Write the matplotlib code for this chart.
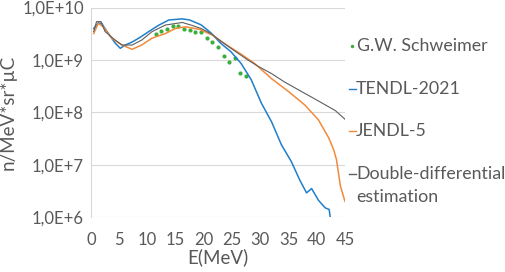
import matplotlib.pyplot as plt
from matplotlib.lines import Line2D

plt.rcParams['font.family'] = ['Lato', 'DejaVu Sans']

# G.W. Schweimer (points)
e_gw = [11.5, 12.5, 13.5, 14.5, 15.5, 16.5, 17.5, 18.5, 19.5, 20.5, 21.5, 22.5,
        23.5, 24.5, 25.5, 26.5, 27.5]
v_gw = [3.2e9, 3.6e9, 3.85e9, 4.5e9, 4.5e9, 3.85e9, 3.7e9, 3.46e9, 3.37e9, 2.66e9,
        2.2e9, 1.79e9, 1.21e9, 9.3e8, 1.09e9, 5.6e8, 4.9e8]

# TENDL-2021
e_tendl = [0.5, 1.3, 1.9, 3.1, 4.3, 5.2, 6.1, 7.3, 8.7, 10.2, 12.0, 13.8, 16.2, 17.5,
           19.5, 20.7, 21.25, 23.0, 24.8, 26.6, 28.4, 30.2, 32.0, 33.75, 35.5, 37.0,
           38.2, 39.1, 40.3, 41.5, 42.2, 42.4]
v_tendl = [4.0e9, 5.1e9, 5.0e9, 3.2e9, 2.1e9, 1.67e9, 1.93e9, 2.2e9, 2.7e9, 3.46e9,
           4.6e9, 5.8e9, 6.1e9, 5.8e9, 4.7e9, 3.7e9, 3.3e9, 2.08e9, 1.44e9, 8.6e8,
           4.2e8, 1.5e8, 6.6e7, 2.4e7, 1.15e7, 5.1e6, 2.9e6, 3.5e6, 2.1e6, 1.5e6,
           1.4e6, 1.0e6]

# JENDL-5
e_jendl = [0.5, 1.3, 2.2, 3.7, 5.5, 7.3, 9.0, 10.8, 13.2, 15.0, 16.8, 19.2, 21.5,
           23.6, 26.6, 29.0, 32.0, 35.0, 37.9, 40.3, 42.1, 43.0, 43.5, 44.2, 45.0]
v_jendl = [3.2e9, 5.0e9, 4.3e9, 2.6e9, 1.93e9, 1.6e9, 1.93e9, 2.6e9, 3.2e9, 4.0e9,
           4.3e9, 3.85e9, 3.0e9, 2.08e9, 1.29e9, 8.6e8, 4.4e8, 2.5e8, 1.38e8, 7.2e7,
           3.3e7, 1.95e7, 1.26e7, 3.9e6, 2.0e6]

# Double-differential estimation
e_dd = [0.5, 1.0, 1.8, 2.5, 4.3, 5.5, 7.3, 9.0, 10.8, 13.2, 16.2, 17.7, 19.5, 21.25,
        23.0, 24.8, 26.5, 27.8, 29.5, 32.0, 34.3, 37.3, 40.3, 43.3, 45.0]
v_dd = [3.5e9, 5.4e9, 5.4e9, 3.5e9, 2.4e9, 1.93e9, 1.93e9, 2.4e9, 3.46e9, 4.65e9,
        5.2e9, 4.65e9, 4.0e9, 3.2e9, 2.3e9, 1.67e9, 1.25e9, 1.0e9, 7.7e8, 5.5e8,
        3.8e8, 2.5e8, 1.65e8, 1.08e8, 7.4e7]

x_ticks = [0, 5, 10, 15, 20, 25, 30, 35, 40, 45]
y_ticks = [1e6, 1e7, 1e8, 1e9, 1e10]
y_labels = ['1,0E+6', '1,0E+7', '1,0E+8', '1,0E+9', '1,0E+10']

c_gw = '#3DAE3D'
c_tendl = '#1F7FCB'
c_jendl = '#F28A3C'
c_dd = '#5E5E5E'
txt = '#595959'

fig = plt.figure(figsize=(5.05, 2.72), dpi=100)
ax = fig.add_axes([0.180, 0.202, 0.503, 0.770])

ax.plot(e_gw, v_gw, 'o', color=c_gw, markersize=3, markeredgewidth=0)
ax.plot(e_tendl, v_tendl, color=c_tendl, lw=1.1)
ax.plot(e_jendl, v_jendl, color=c_jendl, lw=1.1)
ax.plot(e_dd, v_dd, color=c_dd, lw=0.8)

ax.set_yscale('log')
ax.set_xlim(0, 45)
ax.set_ylim(1e6, 1e10)
ax.set_xticks(x_ticks)
ax.set_yticks(y_ticks)
ax.set_yticklabels(y_labels)
ax.minorticks_off()
ax.grid(axis='y', color='#D9D9D9', lw=0.8)
ax.set_axisbelow(True)
for s in ['top', 'right', 'bottom']:
    ax.spines[s].set_visible(False)
ax.spines['left'].set_color('#D9D9D9')
ax.tick_params(length=0, labelsize=12, labelcolor=txt)
ax.tick_params(axis='x', pad=11)
ax.tick_params(axis='y', pad=5)
ax.set_xlabel('E(MeV)', fontsize=13.5, color=txt, labelpad=0)
ax.set_ylabel('n/MeV*sr*µC', fontsize=13.5, color=txt, labelpad=4)

# legend drawn by hand at the right
def y_fig(py):
    return 1 - py / 272

def x_fig(px):
    return px / 505

fig.add_artist(Line2D([x_fig(352)], [y_fig(46)], marker='o', color=c_gw,
                      markersize=2.5, markeredgewidth=0, transform=fig.transFigure))
entries = [(c_tendl, 'TENDL-2021', 89), (c_jendl, 'JENDL-5', 131),
           (c_dd, 'Double-differential', 174)]
for c, lab, py in entries:
    fig.add_artist(Line2D([x_fig(349), x_fig(356)], [y_fig(py), y_fig(py)], color=c,
                          lw=1, transform=fig.transFigure))
fig.text(x_fig(357), y_fig(46), 'G.W. Schweimer', fontsize=12.8, color=txt, va='center')
for c, lab, py in entries:
    fig.text(x_fig(356), y_fig(py), lab, fontsize=12.8, color=txt, va='center')
fig.text(x_fig(356), y_fig(197), 'estimation', fontsize=12.8, color=txt, va='center')

fig.savefig('out.png', dpi=100)
